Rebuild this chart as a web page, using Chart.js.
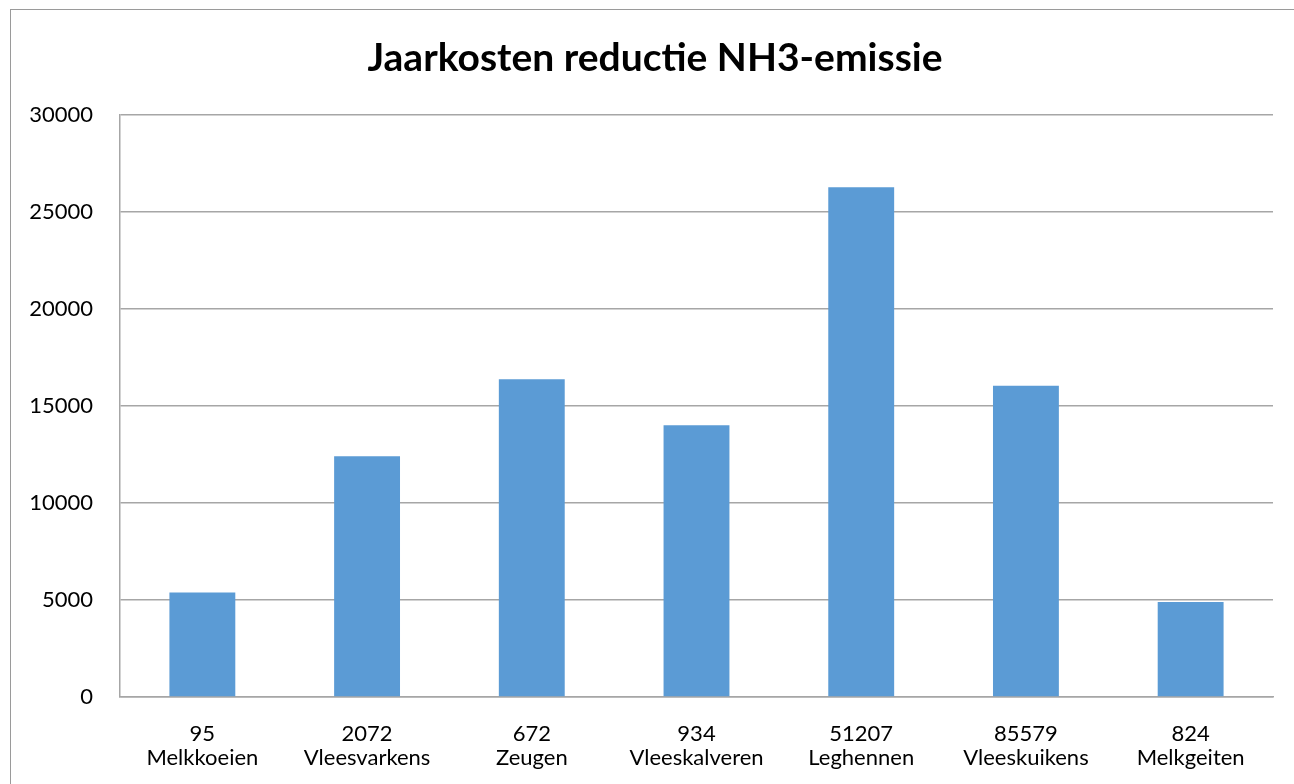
<!DOCTYPE html>
<html>
<head>
<meta charset="utf-8">
<script src="https://cdn.jsdelivr.net/npm/chart.js@4.4.1/dist/chart.umd.min.js"></script>
<style>
  html, body { margin: 0; padding: 0; background: #fff; }
  #wrap { position: relative; width: 1294px; height: 784px; overflow: hidden; }
  #frame { position: absolute; left: 10px; top: 9px; width: 1400px; height: 900px;
           border-left: 1.5px solid #9a9a9a; border-top: 1.5px solid #9a9a9a; pointer-events: none; }
  canvas { position: absolute; left: 0; top: 0; }
</style>
</head>
<body>
<div id="wrap">
  <div id="frame"></div>
  <canvas id="c" width="1294" height="784"></canvas>
</div>
<script>
const titleText = 'Jaarkosten reductie NH3-emissie';
const categories = ['Melkkoeien', 'Vleesvarkens', 'Zeugen', 'Vleeskalveren', 'Leghennen', 'Vleeskuikens', 'Melkgeiten'];
const counts = ['95', '2072', '672', '934', '51207', '85579', '824'];
const values = [5390, 12400, 16370, 14000, 26270, 16040, 4900];
const yTicks = [0, 5000, 10000, 15000, 20000, 25000, 30000];

const labels = categories.map((c, i) => [counts[i], c]);

const canvas = document.getElementById('c');
new Chart(canvas, {
  type: 'bar',
  data: {
    labels: labels,
    datasets: [{
      data: values,
      backgroundColor: '#5b9bd5',
      borderWidth: 0,
      barPercentage: 0.4,
      categoryPercentage: 1.0
    }]
  },
  options: {
    responsive: false,
    animation: false,
    devicePixelRatio: 1,
    layout: { padding: { left: 37, right: 21, top: 0, bottom: 0 } },
    plugins: {
      legend: { display: false },
      tooltip: { enabled: false },
      title: {
        display: true,
        text: titleText,
        color: '#000',
        font: { family: 'Lato', size: 39, weight: 'bold' },
        padding: { top: 35, bottom: 33 }
      }
    },
    scales: {
      x: {
        grid: { display: false, drawTicks: false },
        border: { display: true, color: '#a6a6a6', width: 1.5 },
        ticks: {
          color: '#000',
          font: { family: 'Lato', size: 22, lineHeight: 1.1 },
          padding: 25,
          maxRotation: 0,
          autoSkip: false
        },
        afterFit: (s) => { s.height = 87; }
      },
      y: {
        min: 0,
        max: 30000,
        afterBuildTicks: (s) => { s.ticks = yTicks.map(v => ({ value: v })); },
        grid: { color: '#a6a6a6', lineWidth: 1.5, drawTicks: false },
        border: { display: true, color: '#a6a6a6', width: 1.5 },
        ticks: {
          color: '#000',
          font: { family: 'Lato', size: 22 },
          padding: 27,
          callback: (v) => String(v)
        },
        afterFit: (s) => {
          s.width = 83;
          s._computeLabelArea = function () { return undefined; };
        }
      }
    }
  }
});
</script>
</body>
</html>
